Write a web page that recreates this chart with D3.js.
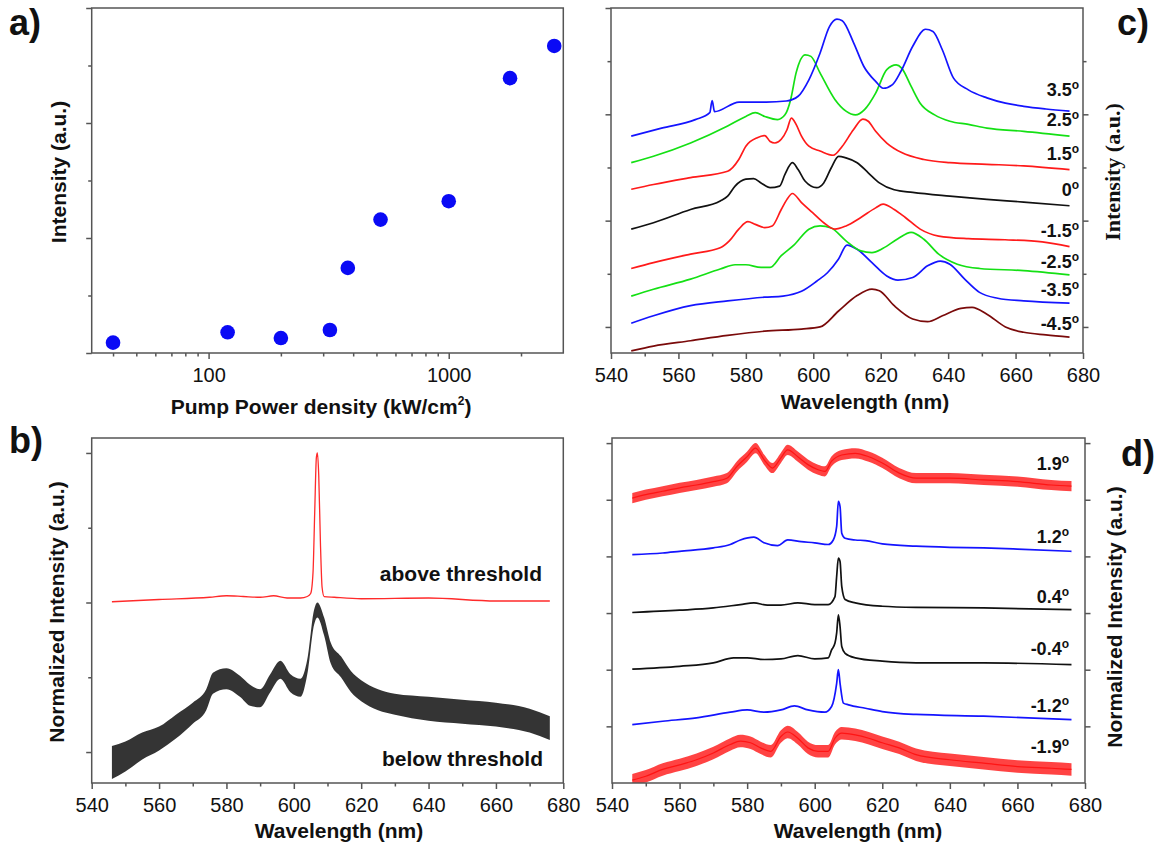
<!DOCTYPE html>
<html>
<head>
<meta charset="utf-8">
<script src="https://cdnjs.cloudflare.com/ajax/libs/d3/7.8.5/d3.min.js"></script>
<style>
body { margin: 0; background: #fff; }
svg text { font-family: "Liberation Sans", Arial, sans-serif; fill: #111; }
.title { font-size: 21px; font-weight: bold; }
.angle { font-size: 18px; font-weight: bold; }
.panel { font-size: 36px; font-weight: bold; }
</style>
</head>
<body>
<div id="fig"></div>
<script>
// ---------- panel a : intensity vs pump power ----------
var pumpPower = [40, 120, 200, 320, 380, 520, 1000, 1800, 2750];
var pumpIntensity = [0.09, 0.18, 0.13, 0.20, 0.74, 1.16, 1.32, 2.39, 2.67];

// ---------- panel b : spectra above / below threshold ----------
var aboveWl = [546, 560, 575, 580, 585, 590, 594, 598, 602, 604, 605, 605.7, 606.2, 606.7, 607, 607.4, 607.9, 608.4, 609, 612, 620, 640, 660, 676];
var aboveVal = [1.005, 1.02, 1.035, 1.045, 1.04, 1.035, 1.045, 1.03, 1.03, 1.04, 1.06, 1.2, 1.6, 1.97, 2.0, 1.85, 1.4, 1.1, 1.04, 1.035, 1.025, 1.03, 1.01, 1.01];
var belowWl = [546, 550, 555, 560, 565, 570, 574, 576, 580, 584, 587, 590, 593, 596, 599, 602, 604, 606, 607, 609, 611, 614, 617, 620, 625, 630, 640, 650, 660, 670, 676];
var belowVal = [-0.07, -0.03, 0.04, 0.09, 0.17, 0.26, 0.35, 0.46, 0.49, 0.44, 0.38, 0.36, 0.46, 0.55, 0.46, 0.43, 0.57, 0.90, 0.95, 0.84, 0.66, 0.57, 0.47, 0.41, 0.35, 0.32, 0.29, 0.27, 0.25, 0.21, 0.16];
var belowSpread = [0.11, 0.1, 0.09, 0.08, 0.08, 0.07, 0.07, 0.07, 0.07, 0.07, 0.07, 0.06, 0.06, 0.06, 0.06, 0.06, 0.05, 0.05, 0.05, 0.06, 0.07, 0.07, 0.07, 0.07, 0.07, 0.07, 0.08, 0.08, 0.08, 0.08, 0.08];

// ---------- panel c : angle resolved spectra ----------
var cAngles = ["3.5", "2.5", "1.5", "0", "-1.5", "-2.5", "-3.5", "-4.5"];
var c35Wl = [546, 555, 565, 569.3, 570, 570.7, 578, 586, 592, 595.5, 598.7, 602, 604.8, 607, 608.6, 612, 615, 618.5, 620.7, 623.5, 626, 629.5, 633.3, 635.5, 638.3, 641.6, 646, 651.5, 657, 662.4, 669, 676];
var c35Val = [3.59, 3.74, 3.90, 4.03, 4.26, 4.05, 4.23, 4.23, 4.25, 4.34, 4.65, 5.15, 5.65, 5.79, 5.76, 5.34, 4.90, 4.62, 4.49, 4.56, 4.81, 5.28, 5.60, 5.56, 5.21, 4.68, 4.46, 4.31, 4.21, 4.15, 4.10, 4.06];
var c25Wl = [546, 552.6, 563.6, 574.6, 580, 582.8, 585.6, 589.4, 591.6, 593.3, 594.9, 597.6, 599.3, 602, 606.4, 609.7, 612.5, 615.2, 618.5, 621.8, 624.6, 626.2, 629, 631.7, 636, 640.5, 646, 651.5, 662.4, 676];
var c25Val = [3.09, 3.21, 3.46, 3.78, 3.96, 4.03, 3.96, 3.90, 3.99, 4.28, 4.78, 5.12, 5.09, 4.78, 4.28, 4.06, 3.99, 4.09, 4.40, 4.84, 4.93, 4.87, 4.53, 4.21, 3.99, 3.87, 3.81, 3.74, 3.68, 3.59];
var c15Wl = [546, 552.6, 563.6, 574.6, 577.9, 580, 583.4, 585.6, 587.2, 588.6, 590.5, 592.2, 593.5, 594.9, 596.5, 598.7, 602, 605.9, 608.6, 611.9, 614.7, 616.3, 618.5, 621.8, 626.2, 632.8, 640.5, 651.5, 662.4, 676];
var c15Val = [2.59, 2.68, 2.81, 2.93, 3.15, 3.40, 3.56, 3.60, 3.49, 3.46, 3.53, 3.71, 3.93, 3.81, 3.59, 3.40, 3.31, 3.23, 3.40, 3.71, 3.91, 3.87, 3.68, 3.46, 3.28, 3.15, 3.09, 3.06, 3.03, 2.96];
var c0Wl = [546, 552.6, 563.6, 572.4, 574.6, 576.8, 580, 582.3, 584.5, 587.2, 590, 591.6, 593.8, 595.5, 597.6, 601, 603.1, 605.3, 607.5, 609.7, 613, 616.3, 619.6, 624, 629.5, 640.5, 651.5, 662.4, 676];
var c0Val = [1.84, 1.96, 2.21, 2.37, 2.46, 2.65, 2.78, 2.79, 2.71, 2.62, 2.65, 2.87, 3.09, 2.96, 2.74, 2.62, 2.71, 2.99, 3.21, 3.18, 3.09, 2.90, 2.71, 2.58, 2.53, 2.46, 2.40, 2.35, 2.28];
var cm15Wl = [546, 552.6, 563.6, 572.4, 575.1, 577.9, 580.6, 582.8, 585.6, 587.8, 590.5, 592.2, 593.8, 596.5, 599.8, 603.1, 606.4, 609.7, 614.1, 618.5, 620.7, 624, 627.3, 631.7, 637.2, 646, 656.9, 667.9, 676];
var cm15Val = [1.10, 1.21, 1.37, 1.49, 1.62, 1.84, 1.98, 1.93, 1.87, 1.90, 2.21, 2.40, 2.51, 2.34, 2.15, 1.96, 1.84, 1.90, 2.06, 2.24, 2.31, 2.21, 2.06, 1.84, 1.71, 1.66, 1.64, 1.60, 1.51];
var cm25Wl = [546, 552.6, 563.6, 572.4, 576.8, 580, 584.5, 587.2, 590.5, 594.4, 598.7, 602, 605.3, 609.7, 614.1, 617.4, 620.7, 625.1, 629, 632.8, 637.2, 642.7, 649.3, 662.4, 676];
var cm25Val = [0.58, 0.71, 0.90, 1.09, 1.17, 1.17, 1.12, 1.12, 1.34, 1.55, 1.84, 1.90, 1.86, 1.62, 1.43, 1.40, 1.48, 1.66, 1.78, 1.65, 1.37, 1.18, 1.10, 1.06, 0.98];
var cm35Wl = [546, 552.6, 563.6, 574.6, 585.6, 591, 596.5, 601, 604.2, 607.5, 610, 613, 617.4, 621.8, 625.1, 629.5, 633.9, 637.7, 640.5, 644.9, 649.3, 654.7, 662.4, 676];
var cm35Val = [0.07, 0.21, 0.40, 0.49, 0.56, 0.58, 0.67, 0.86, 1.02, 1.28, 1.54, 1.46, 1.21, 0.96, 0.88, 0.93, 1.15, 1.24, 1.18, 0.90, 0.65, 0.54, 0.49, 0.45];
var cm45Wl = [546, 552.6, 563.6, 574.6, 585.6, 596.5, 602, 607.5, 613, 617.4, 619.6, 624, 629.5, 633.9, 638.3, 643.8, 647.1, 651.5, 657, 662.4, 669, 676];
var cm45Val = [-0.45, -0.36, -0.26, -0.16, -0.08, -0.04, 0.0, 0.30, 0.59, 0.71, 0.68, 0.40, 0.15, 0.10, 0.21, 0.35, 0.37, 0.24, 0.00, -0.10, -0.15, -0.19];

// ---------- panel d : normalized spectra near normal ----------
var dAngles = ["1.9", "1.2", "0.4", "-0.4", "-1.2", "-1.9"];
var d19Wl = [546, 550, 555, 560, 565, 570, 574, 577, 580, 582.5, 585, 587.5, 590, 592, 595, 598, 601, 603, 605, 608, 612, 616, 620, 625, 630, 640, 650, 660, 670, 676];
var d19Val = [5.03, 5.09, 5.15, 5.21, 5.26, 5.32, 5.38, 5.59, 5.76, 5.91, 5.71, 5.56, 5.74, 5.88, 5.76, 5.62, 5.53, 5.50, 5.68, 5.79, 5.82, 5.76, 5.65, 5.47, 5.38, 5.38, 5.35, 5.32, 5.26, 5.24];
var d12Wl = [546, 555, 560, 570, 575, 578, 582, 585, 589, 592, 596, 600, 604, 605.5, 606.5, 607, 607.5, 608, 609, 612, 615, 620, 630, 640, 650, 660, 676];
var d12Val = [4.03, 4.06, 4.09, 4.15, 4.21, 4.29, 4.34, 4.24, 4.19, 4.29, 4.26, 4.24, 4.21, 4.29, 4.53, 4.97, 4.88, 4.41, 4.32, 4.29, 4.28, 4.22, 4.18, 4.16, 4.15, 4.13, 4.09];
var d04Wl = [546, 560, 570, 578, 582, 586, 590, 595, 600, 604, 606, 606.5, 607, 607.5, 608, 609, 612, 620, 630, 650, 676];
var d04Val = [3.01, 3.05, 3.09, 3.15, 3.18, 3.14, 3.14, 3.18, 3.15, 3.15, 3.29, 3.65, 3.97, 3.91, 3.47, 3.24, 3.18, 3.12, 3.10, 3.09, 3.06];
var dm04Wl = [546, 560, 570, 576, 580, 585, 590, 595, 600, 604, 605, 606, 606.5, 607, 607.5, 608, 609, 612, 620, 630, 650, 676];
var dm04Val = [2.01, 2.06, 2.12, 2.21, 2.21, 2.18, 2.19, 2.25, 2.19, 2.21, 2.35, 2.47, 2.65, 2.97, 2.76, 2.41, 2.29, 2.21, 2.15, 2.12, 2.12, 2.09];
var dm12Wl = [546, 555, 565, 575, 580, 585, 590, 594, 598, 603, 605, 606.5, 607, 607.5, 608.5, 610, 615, 620, 630, 650, 676];
var dm12Val = [1.03, 1.09, 1.15, 1.25, 1.29, 1.25, 1.29, 1.36, 1.29, 1.25, 1.35, 1.76, 2.0, 1.76, 1.41, 1.38, 1.32, 1.26, 1.21, 1.18, 1.12];
var dm19Wl = [546, 550, 555, 560, 565, 570, 575, 578, 581, 584, 587, 590, 592, 595, 598, 601, 604, 606, 608, 612, 616, 620, 625, 630, 640, 650, 660, 670, 676];
var dm19Val = [0.05, 0.12, 0.24, 0.32, 0.41, 0.53, 0.68, 0.74, 0.71, 0.62, 0.56, 0.82, 0.90, 0.79, 0.62, 0.56, 0.56, 0.79, 0.88, 0.85, 0.79, 0.71, 0.62, 0.50, 0.41, 0.35, 0.29, 0.26, 0.24];
var dSpread = [0.09, 0.025, 0.02, 0.02, 0.025, 0.11];

var wlTicks = [540, 560, 580, 600, 620, 640, 660, 680];
var wlMinor = [550, 570, 590, 610, 630, 650, 670];

function zip(xs, ys) {
    return xs.map(function(x, i) { return {x: x, y: ys[i]}; });
}

var frameColor = "#555";
var svg = d3.select("#fig").append("svg")
    .attr("width", 1160)
    .attr("height", 850);

function frame(x0, y0, x1, y1) {
    svg.append("rect")
        .attr("x", x0).attr("y", y0)
        .attr("width", x1 - x0).attr("height", y1 - y0)
        .attr("fill", "none")
        .attr("stroke", frameColor)
        .attr("stroke-width", 1.5);
}

function styleAxis(g) {
    g.select(".domain").remove();
    g.selectAll("line").attr("stroke", frameColor).attr("stroke-width", 1.5);
    g.selectAll("text")
        .attr("fill", "#111")
        .attr("font-size", 20)
        .attr("font-family", "'Liberation Sans', Arial, sans-serif");
}

function bottomTicks(scale, y, major, minor, fmt) {
    var gMin = svg.append("g").attr("transform", "translate(0," + y + ")")
        .call(d3.axisBottom(scale).tickValues(minor).tickSize(3.5).tickFormat(""));
    var gMaj = svg.append("g").attr("transform", "translate(0," + y + ")")
        .call(d3.axisBottom(scale).tickValues(major).tickSize(6).tickPadding(9).tickFormat(fmt));
    styleAxis(gMin);
    styleAxis(gMaj);
}

function sideTicks(scale, x, major, minor, right) {
    var ax = right ? d3.axisRight : d3.axisLeft;
    var gMaj = svg.append("g").attr("transform", "translate(" + x + ",0)")
        .call(ax(scale).tickValues(major).tickSize(5.5).tickFormat(""));
    styleAxis(gMaj);
    if (minor.length) {
        var gMin = svg.append("g").attr("transform", "translate(" + x + ",0)")
            .call(ax(scale).tickValues(minor).tickSize(3.5).tickFormat(""));
        styleAxis(gMin);
    }
}

function clip(id, x0, y0, x1, y1) {
    svg.append("clipPath").attr("id", id)
        .append("rect").attr("x", x0).attr("y", y0).attr("width", x1 - x0).attr("height", y1 - y0);
}

function angleLabel(x, y, txt) {
    var t = svg.append("text").attr("class", "angle")
        .attr("x", x).attr("y", y)
        .attr("text-anchor", "end");
    t.append("tspan").text(txt);
    t.append("tspan").attr("dy", -7).attr("font-size", 12).text("o");
}

function yTitle(x, y, txt, serif) {
    var t = svg.append("text")
        .attr("class", "title")
        .attr("transform", "translate(" + x + "," + y + ") rotate(-90)")
        .attr("text-anchor", "middle")
        .text(txt);
    if (serif) {
        t.style("font-family", "'Liberation Serif', 'Times New Roman', serif").style("font-size", "22px");
    }
}

//***************** panel a ***************************
var xA = d3.scaleLog().domain([32.6, 3000]).range([91.7, 563.3]);
var yA = d3.scaleLinear().domain([0, 3]).range([353, 8]);

bottomTicks(xA, 353, [100, 1000],
    [40, 50, 60, 70, 80, 90, 200, 300, 400, 500, 600, 700, 800, 900, 2000], d3.format("d"));
sideTicks(yA, 91.7, [0, 1, 2, 3], [0.5, 1.5, 2.5], false);
frame(91.7, 8, 563.3, 353);

svg.append("g").selectAll("circle")
    .data(zip(pumpPower, pumpIntensity))
    .enter()
    .append("circle")
    .attr("cx", function(d) { return xA(d.x); })
    .attr("cy", function(d) { return yA(d.y); })
    .attr("r", 7.3)
    .attr("fill", "#0a0af5");

var xtA = svg.append("text").attr("class", "title")
    .attr("x", 321).attr("y", 414).attr("text-anchor", "middle");
xtA.append("tspan").text("Pump Power density (kW/cm");
xtA.append("tspan").attr("dy", -9).attr("font-size", 12).text("2");
xtA.append("tspan").attr("dy", 9).text(")");
yTitle(66, 172, "Intensity (a.u.)");
svg.append("text").attr("class", "panel").attr("x", 9).attr("y", 35).text("a)");

//***************** panel b ***************************
var xB = d3.scaleLinear().domain([540, 680]).range([91.7, 563.3]);
var yB = d3.scaleLinear().domain([-0.207, 2.1]).range([783, 438]);
clip("clipB", 91.7, 438, 563.3, 783);

bottomTicks(xB, 783, wlTicks, wlMinor, d3.format("d"));
sideTicks(yB, 91.7, [0, 1, 2], [0.5, 1.5], false);

var bandB = d3.area()
    .x(function(d) { return xB(d.x); })
    .y0(function(d) { return yB(d.y - d.s); })
    .y1(function(d) { return yB(d.y + d.s); })
    .curve(d3.curveMonotoneX);
var belowData = belowWl.map(function(w, i) { return {x: w, y: belowVal[i], s: belowSpread[i]}; });
svg.append("path")
    .datum(belowData)
    .attr("clip-path", "url(#clipB)")
    .attr("d", bandB)
    .attr("fill", "#111")
    .attr("fill-opacity", 0.85);

var lineB = d3.line()
    .x(function(d) { return xB(d.x); })
    .y(function(d) { return yB(d.y); })
    .curve(d3.curveMonotoneX);
svg.append("path")
    .datum(zip(aboveWl, aboveVal))
    .attr("d", lineB)
    .attr("fill", "none")
    .attr("stroke", "#ff2a2a")
    .attr("stroke-width", 1.3);

frame(91.7, 438, 563.3, 783);
svg.append("text").attr("class", "title").attr("x", 542).attr("y", 581).attr("text-anchor", "end").text("above threshold");
svg.append("text").attr("class", "title").attr("x", 543).attr("y", 766).attr("text-anchor", "end").text("below threshold");
svg.append("text").attr("class", "title").attr("x", 339).attr("y", 838).attr("text-anchor", "middle").text("Wavelength (nm)");
yTitle(64, 612, "Normalized Intensity (a.u.)");
svg.append("text").attr("class", "panel").attr("x", 9).attr("y", 453).text("b)");

//***************** panel c ***************************
var xC = d3.scaleLinear().domain([540, 680]).range([611, 1083]);
var yC = d3.scaleLinear().domain([-0.49, 6]).range([353, 8]);
clip("clipC", 611, 8, 1083, 353);

bottomTicks(xC, 353, wlTicks, wlMinor, d3.format("d"));
sideTicks(yC, 611, [0, 2, 4, 6], [1, 3, 5], false);
sideTicks(yC, 1083, [0, 2, 4], [1, 3, 5], true);

var cSeries = [
    {wl: c35Wl, val: c35Val, color: "#1414ff"},
    {wl: c25Wl, val: c25Val, color: "#14e014"},
    {wl: c15Wl, val: c15Val, color: "#ff1a1a"},
    {wl: c0Wl, val: c0Val, color: "#111"},
    {wl: cm15Wl, val: cm15Val, color: "#ff1a1a"},
    {wl: cm25Wl, val: cm25Val, color: "#14e014"},
    {wl: cm35Wl, val: cm35Val, color: "#1414ff"},
    {wl: cm45Wl, val: cm45Val, color: "#7a0a0a"}
];
var lineC = d3.line()
    .x(function(d) { return xC(d.x); })
    .y(function(d) { return yC(d.y); })
    .curve(d3.curveMonotoneX);
// draw from bottom to top so upper traces sit on top
cSeries.slice().reverse().forEach(function(s) {
    svg.append("path")
        .datum(zip(s.wl, s.val))
        .attr("clip-path", "url(#clipC)")
        .attr("d", lineC)
        .attr("fill", "none")
        .attr("stroke", s.color)
        .attr("stroke-width", 1.7);
});
frame(611, 8, 1083, 353);

var cLabelY = [96, 126, 160, 196, 237, 268, 296, 330];
cAngles.forEach(function(a, i) { angleLabel(1079, cLabelY[i], a); });

svg.append("text").attr("class", "title").attr("x", 865).attr("y", 409).attr("text-anchor", "middle").text("Wavelength (nm)");
yTitle(1120, 172, "Intensity (a.u.)", true);
svg.append("text").attr("class", "panel").attr("x", 1117).attr("y", 35).text("c)");

//***************** panel d ***************************
var xD = d3.scaleLinear().domain([540, 680]).range([612, 1085]);
var yD = d3.scaleLinear().domain([0, 6.09]).range([783, 438]);
clip("clipD", 612, 438, 1085, 783);

bottomTicks(xD, 783, wlTicks, wlMinor, d3.format("d"));
sideTicks(yD, 612, [1, 2, 3, 4, 5, 6], [], false);
sideTicks(yD, 1085, [1, 2, 3, 4, 5, 6], [], true);

var dSeries = [
    {wl: d19Wl, val: d19Val, color: "#ff1414", band: true},
    {wl: d12Wl, val: d12Val, color: "#1414ff"},
    {wl: d04Wl, val: d04Val, color: "#111"},
    {wl: dm04Wl, val: dm04Val, color: "#111"},
    {wl: dm12Wl, val: dm12Val, color: "#1414ff"},
    {wl: dm19Wl, val: dm19Val, color: "#ff1414", band: true}
];
var lineD = d3.line()
    .x(function(d) { return xD(d.x); })
    .y(function(d) { return yD(d.y); })
    .curve(d3.curveMonotoneX);
var bandD = d3.area()
    .x(function(d) { return xD(d.x); })
    .y0(function(d) { return yD(d.y - d.s); })
    .y1(function(d) { return yD(d.y + d.s); })
    .curve(d3.curveMonotoneX);

dSeries.forEach(function(s, i) {
    var pts = s.wl.map(function(w, j) { return {x: w, y: s.val[j], s: dSpread[i]}; });
    if (s.band) {
        svg.append("path")
            .datum(pts)
            .attr("clip-path", "url(#clipD)")
            .attr("d", bandD)
            .attr("fill", s.color)
            .attr("fill-opacity", 0.8);
    }
    svg.append("path")
        .datum(pts)
        .attr("clip-path", "url(#clipD)")
        .attr("d", lineD)
        .attr("fill", "none")
        .attr("stroke", s.color)
        .attr("stroke-width", s.band ? 1.2 : 1.7);
});
frame(612, 438, 1085, 783);

var dLabelY = [470, 543, 603, 655, 712, 753];
dAngles.forEach(function(a, i) { angleLabel(1069, dLabelY[i], a); });

svg.append("text").attr("class", "title").attr("x", 858).attr("y", 838).attr("text-anchor", "middle").text("Wavelength (nm)");
yTitle(1122, 617, "Normalized Intensity (a.u.)");
svg.append("text").attr("class", "panel").attr("x", 1121).attr("y", 466).text("d)");
</script>
</body>
</html>
